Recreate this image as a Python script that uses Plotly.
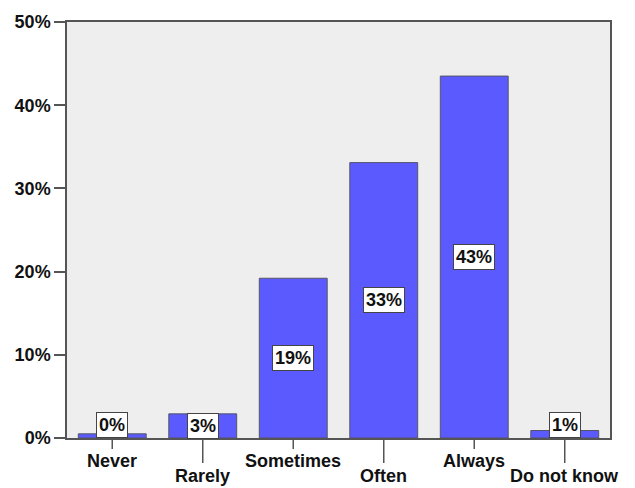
import plotly.graph_objects as go

categories = ["Never", "Rarely", "Sometimes", "Often", "Always", "Do not know"]
values = [0.5, 2.9, 19.2, 33.1, 43.5, 0.9]
labels = ["0%", "3%", "19%", "33%", "43%", "1%"]
y_ticks = [0, 10, 20, 30, 40, 50]
y_ticktext = ["0%", "10%", "20%", "30%", "40%", "50%"]

FONT = "Liberation Sans, Arial, sans-serif"

fig = go.Figure()
fig.add_trace(go.Bar(
    x=list(range(len(categories))), y=values, width=0.75,
    marker=dict(color="#5a5aff", line=dict(color="#555566", width=1)),
    hoverinfo="skip",
))

annotations = []
shapes = []
for i, (c, v, lab) in enumerate(zip(categories, values, labels)):
    ylab = v / 2 if v > 2 else 1.6
    annotations.append(dict(
        x=i, y=ylab, xref="x", yref="y", text="<b>%s</b>" % lab, showarrow=False,
        font=dict(family=FONT, size=18, color="#111111"),
        bgcolor="white", bordercolor="#444444", borderwidth=1, borderpad=2,
        xanchor="center", yanchor="middle",
    ))
    low = (i % 2 == 1)
    annotations.append(dict(
        x=i, y=0, xref="x", yref="paper", text="<b>%s</b>" % c, showarrow=False,
        font=dict(family=FONT, size=18, color="#111111"),
        xanchor="center", yanchor="middle", yshift=-38 if low else -23,
    ))
    shapes.append(dict(
        type="line", xref="x", yref="paper", ysizemode="pixel", yanchor=0,
        x0=i, x1=i, y0=0, y1=-25 if low else -11,
        line=dict(color="#555555", width=1.5),
    ))

fig.update_layout(
    width=635, height=488,
    margin=dict(l=67, r=25, t=18, b=50),
    paper_bgcolor="white", plot_bgcolor="#eeeeee",
    showlegend=False, bargap=0.25,
    annotations=annotations, shapes=shapes,
    xaxis=dict(range=[-0.5, 5.5], showticklabels=False, ticks="", showgrid=False,
               zeroline=False, showline=True, mirror=True, linecolor="#555555", linewidth=1.5),
    yaxis=dict(range=[0, 50], tickvals=y_ticks, ticktext=["<b>%s</b>" % t for t in y_ticktext],
               ticks="outside", ticklen=11, tickcolor="#555555", tickwidth=1.5,
               tickfont=dict(family=FONT, size=18, color="#111111"),
               showgrid=False, zeroline=False, showline=True, mirror=True,
               linecolor="#555555", linewidth=1.5),
)

fig.write_html("out.html")
